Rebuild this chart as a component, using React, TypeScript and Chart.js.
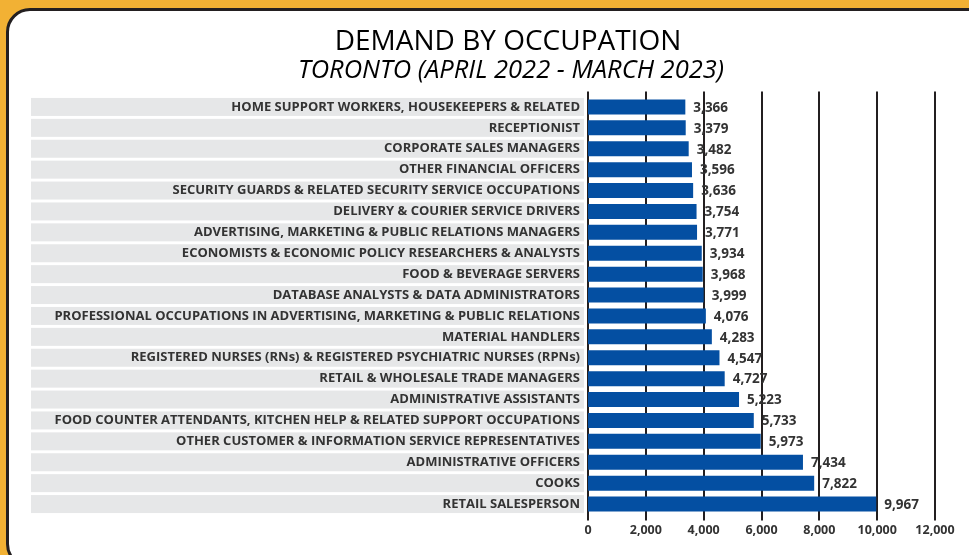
import React, { useEffect, useRef } from 'react';
import { Chart, registerables } from 'chart.js';

Chart.register(...registerables);

const TITLE = 'DEMAND BY OCCUPATION';
const SUBTITLE = 'TORONTO (APRIL 2022 - MARCH 2023)';

const occupations = [
  'HOME SUPPORT WORKERS, HOUSEKEEPERS & RELATED',
  'RECEPTIONIST',
  'CORPORATE SALES MANAGERS',
  'OTHER FINANCIAL OFFICERS',
  'SECURITY GUARDS & RELATED SECURITY SERVICE OCCUPATIONS',
  'DELIVERY & COURIER SERVICE DRIVERS',
  'ADVERTISING, MARKETING & PUBLIC RELATIONS MANAGERS',
  'ECONOMISTS & ECONOMIC POLICY RESEARCHERS & ANALYSTS',
  'FOOD & BEVERAGE SERVERS',
  'DATABASE ANALYSTS & DATA ADMINISTRATORS',
  'PROFESSIONAL OCCUPATIONS IN ADVERTISING, MARKETING & PUBLIC RELATIONS',
  'MATERIAL HANDLERS',
  'REGISTERED NURSES (RNs) & REGISTERED PSYCHIATRIC NURSES (RPNs)',
  'RETAIL & WHOLESALE TRADE MANAGERS',
  'ADMINISTRATIVE ASSISTANTS',
  'FOOD COUNTER ATTENDANTS, KITCHEN HELP & RELATED SUPPORT OCCUPATIONS',
  'OTHER CUSTOMER & INFORMATION SERVICE REPRESENTATIVES',
  'ADMINISTRATIVE OFFICERS',
  'COOKS',
  'RETAIL SALESPERSON',
];

const demand = [
  3366, 3379, 3482, 3596, 3636, 3754, 3771, 3934, 3968, 3999,
  4076, 4283, 4547, 4727, 5223, 5733, 5973, 7434, 7822, 9967,
];

const xTickValues = [0, 2000, 4000, 6000, 8000, 10000, 12000];

const FONT = "'Open Sans', 'Noto Sans', sans-serif";
const TEXT = '#333333';
const BAR = '#044fa2';
const ROW_BG = '#e6e7e8';
const GRID = '#231f20';

const fmt = (v: number) => v.toLocaleString('en-US');

export default function App() {
  const ref = useRef<HTMLCanvasElement>(null);

  useEffect(() => {
    if (!ref.current) return;

    const rowBg = {
      id: 'rowBg',
      beforeDraw(chart: any) {
        const y = chart.scales.y;
        const ctx = chart.ctx;
        const right = chart.chartArea.left - 4;
        ctx.save();
        ctx.fillStyle = ROW_BG;
        occupations.forEach((_, i) => {
          const cy = y.getPixelForValue(i);
          ctx.fillRect(31, cy - 9, right - 31, 18);
        });
        ctx.restore();
      },
    };

    const gridLines = {
      id: 'gridLines',
      beforeDatasetsDraw(chart: any) {
        const x = chart.scales.x;
        const { top, bottom } = chart.chartArea;
        const ctx = chart.ctx;
        ctx.save();
        ctx.strokeStyle = GRID;
        ctx.lineWidth = 2;
        xTickValues.forEach((v) => {
          const px = Math.round(x.getPixelForValue(v));
          ctx.beginPath();
          ctx.moveTo(px, top - 5);
          ctx.lineTo(px, bottom + 6);
          ctx.stroke();
        });
        ctx.restore();
      },
    };

    const valueLabels = {
      id: 'valueLabels',
      afterDatasetsDraw(chart: any) {
        const meta = chart.getDatasetMeta(0);
        const ctx = chart.ctx;
        ctx.save();
        ctx.font = `bold 13.5px ${FONT}`;
        ctx.fillStyle = TEXT;
        ctx.textAlign = 'left';
        ctx.textBaseline = 'middle';
        meta.data.forEach((el: any, i: number) => {
          ctx.fillText(fmt(demand[i]), el.x + 8, el.y + 1);
        });
        ctx.restore();
      },
    };

    const titles = {
      id: 'titles',
      afterDraw(chart: any) {
        const ctx = chart.ctx;
        ctx.save();
        ctx.fillStyle = '#000000';
        ctx.textAlign = 'center';
        ctx.textBaseline = 'alphabetic';
        ctx.font = `400 28px ${FONT}`;
        ctx.fillText(TITLE, 508, 50);
        ctx.font = `italic 400 25.5px ${FONT}`;
        ctx.fillText(SUBTITLE, 511, 77.5);
        ctx.restore();
      },
    };

    const chart = new Chart(ref.current, {
      type: 'bar',
      data: {
        labels: occupations,
        datasets: [
          {
            data: demand,
            backgroundColor: BAR,
            borderWidth: 0,
            barPercentage: 0.9,
            categoryPercentage: 0.8,
          },
        ],
      },
      options: {
        indexAxis: 'y',
        responsive: false,
        animation: false,
        devicePixelRatio: 1,
        layout: { padding: { left: 31, right: 34, top: 96.5, bottom: 16.5 } },
        plugins: {
          legend: { display: false },
          tooltip: { enabled: false },
          title: { display: false },
        },
        scales: {
          x: {
            min: 0,
            max: 12000,
            grid: { display: false, drawTicks: false },
            border: { display: false },
            ticks: {
              stepSize: 2000,
              padding: 8,
              color: TEXT,
              font: { family: FONT, size: 12.5, weight: 'bold' },
              callback: (v: any) => fmt(Number(v)),
            },
            afterFit: (s: any) => {
              s.height = 24;
            },
          },
          y: {
            grid: { display: false, drawTicks: false },
            border: { display: false },
            ticks: {
              autoSkip: false,
              padding: 8,
              color: TEXT,
              font: { family: FONT, size: 13, weight: 'bold' },
            },
            afterFit: (s: any) => {
              s.width = 557;
            },
          },
        },
      },
      plugins: [rowBg, gridLines, valueLabels, titles],
    } as any);

    return () => chart.destroy();
  }, []);

  return (
    <div
      style={{
        position: 'fixed',
        left: 0,
        top: 0,
        width: 969,
        height: 555,
        background: '#f2b134',
        overflow: 'hidden',
      }}
    >
      <div
        style={{
          position: 'absolute',
          left: 6,
          top: 8,
          width: 990,
          height: 560,
          boxSizing: 'border-box',
          background: '#ffffff',
          border: '3.5px solid #231f20',
          borderRadius: 24,
        }}
      />
      <canvas
        ref={ref}
        width={969}
        height={555}
        style={{ position: 'absolute', left: 0, top: 0, width: 969, height: 555 }}
      />
    </div>
  );
}
